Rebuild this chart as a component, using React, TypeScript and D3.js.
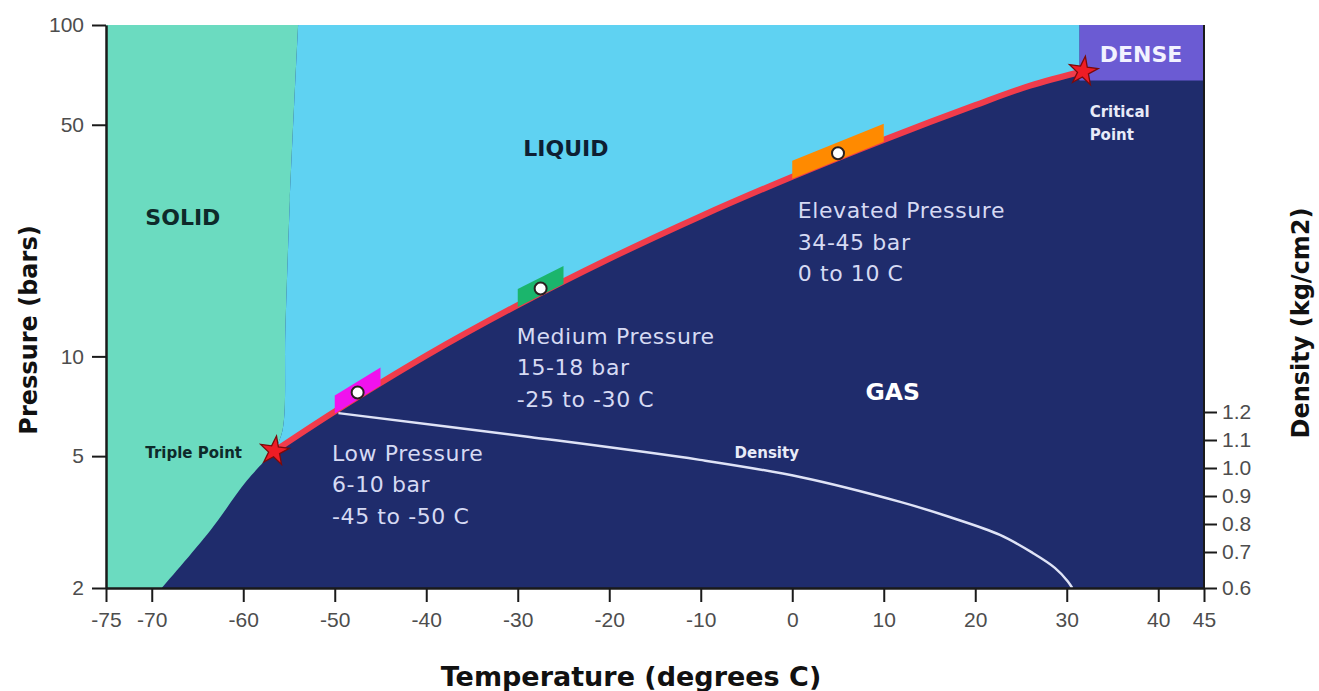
import React, { useEffect, useRef } from 'react';
import * as d3 from 'd3';

// axis ticks
const tempTicks = [-75, -70, -60, -50, -40, -30, -20, -10, 0, 10, 20, 30, 40, 45];
const pressureTicks = [2, 5, 10, 50, 100];
const densityTicks = [0.6, 0.7, 0.8, 0.9, 1.0, 1.1, 1.2];

// phase boundaries (temperature C, pressure bar)
const vaporTemp = [-56.6, -50, -40, -30, -20, -10, 0, 10, 20, 26, 31.8];
const vaporPressure = [5.18, 6.82, 10.05, 14.28, 19.7, 26.49, 34.85, 45.02, 57.29, 65.6, 72.5];
const meltTemp = [-56.6, -55.7, -55.4, -54.9, -54.0];
const meltPressure = [5.18, 6.0, 12, 29.6, 100];
const sublTemp = [-68.9, -63.6, -59.6, -56.6];
const sublPressure = [2, 2.98, 4.22, 5.18];
const denseTemp = [31.4, 45];
const densePressure = [68, 100];

// liquid density line (right axis)
const densityTemp = [-49.6, -28.7, -10.1, 0.85, 11.8, 17.2, 22.7, 26.3, 28.7, 30.1, 30.6];
const densityValues = [1.196, 1.111, 1.029, 0.968, 0.879, 0.825, 0.761, 0.697, 0.656, 0.619, 0.6];

// operating bands along the vapour curve
const bandFrom = [-50, -30, 0];
const bandTo = [-45, -25, 10];
const bandColors = ['#f012ee', '#1bb56c', '#ff8a00'];
const bandText = [
  ['Low Pressure', '6-10 bar', '-45 to -50 C'],
  ['Medium Pressure', '15-18 bar', '-25 to -30 C'],
  ['Elevated Pressure', '34-45 bar', '0 to 10 C'],
];
const bandTextAt = [
  [-50.3, 4.85],
  [-30.1, 10.9],
  [0.6, 26.1],
];

const triplePoint = [-56.6, 5.18];
const criticalPoint = [31.8, 72.5];

const App = () => {
  const ref = useRef<SVGSVGElement>(null);

  useEffect(() => {
    const svg = d3.select(ref.current);
    svg.selectAll('*').remove();

    const x = d3.scaleLinear().domain([-75, 45]).range([106, 1204]);
    const y = d3.scaleLog().domain([2, 100]).range([588, 25]);
    const yD = d3.scaleLinear().domain([0.6, 0.7, 1.2]).range([588, 552, 412]);

    const navy = '#1f2c6c';
    const lineLin = d3.line<number[]>().x((d) => x(d[0])).y((d) => y(d[1]));
    const lineCurve = d3
      .line<number[]>()
      .x((d) => x(d[0]))
      .y((d) => y(d[1]))
      .curve(d3.curveCatmullRom);
    // glue several path pieces into one outline
    const join = (...parts: (string | null)[]) =>
      parts.map((p, i) => (i === 0 ? p : (p as string).replace(/^M/, 'L'))).join('') + 'Z';

    const vapor = vaporTemp.map((t, i) => [t, vaporPressure[i]]);
    const melt = meltTemp.map((t, i) => [t, meltPressure[i]]);
    const subl = sublTemp.map((t, i) => [t, sublPressure[i]]);

    // gas background
    svg
      .append('rect')
      .attr('x', x(-75))
      .attr('y', y(100))
      .attr('width', x(45) - x(-75))
      .attr('height', y(2) - y(100))
      .attr('fill', navy);

    // solid
    const solidPath = join(
      lineLin([[-75, 2], [-75, 100]]),
      lineCurve(melt.slice().reverse()),
      lineCurve(subl.slice().reverse())
    );
    svg.append('path').attr('d', solidPath).attr('fill', '#6bdbc0');

    // liquid
    const liquidPath = join(
      lineCurve(melt),
      lineLin([[denseTemp[0], 100], [denseTemp[0], densePressure[0]], criticalPoint]),
      lineCurve(vapor.slice().reverse())
    );
    svg.append('path').attr('d', liquidPath).attr('fill', '#5fd2f2');

    // dense
    svg
      .append('rect')
      .attr('x', x(denseTemp[0]))
      .attr('y', y(densePressure[1]))
      .attr('width', x(denseTemp[1]) - x(denseTemp[0]))
      .attr('height', y(densePressure[0]) - y(densePressure[1]))
      .attr('fill', '#6b5bd3');

    // vapour pressure curve
    svg
      .append('path')
      .attr('d', lineCurve(vapor))
      .attr('fill', 'none')
      .attr('stroke', '#f03c4b')
      .attr('stroke-width', 6)
      .attr('stroke-linecap', 'round');

    // density line
    const densLine = d3
      .line<number>()
      .x((d, i) => x(densityTemp[i]))
      .y((d) => yD(d))
      .curve(d3.curveCatmullRom);
    svg
      .append('path')
      .attr('d', densLine(densityValues))
      .attr('fill', 'none')
      .attr('stroke', '#dfe3f6')
      .attr('stroke-width', 2.5);

    // bands
    const logP = d3.scaleLinear().domain(vaporTemp).range(vaporPressure.map(Math.log10));
    bandFrom.forEach((t1, i) => {
      const t2 = bandTo[i];
      const x1 = x(t1);
      const x2 = x(t2);
      const y1 = y(Math.pow(10, logP(t1)));
      const y2 = y(Math.pow(10, logP(t2)));
      const pts = [
        [x1, y1 + 2],
        [x2, y2 + 2],
        [x2, y2 - 16],
        [x1, y1 - 16],
      ];
      svg
        .append('polygon')
        .attr('points', pts.map((p) => p.join(',')).join(' '))
        .attr('fill', bandColors[i]);
      svg
        .append('circle')
        .attr('cx', (x1 + x2) / 2)
        .attr('cy', (y1 + y2) / 2 - 5)
        .attr('r', 6)
        .attr('fill', '#fff')
        .attr('stroke', '#2a2020')
        .attr('stroke-width', 2);

      const txt = svg
        .append('text')
        .attr('x', x(bandTextAt[i][0]))
        .attr('y', y(bandTextAt[i][1]))
        .attr('font-family', 'DejaVu Sans')
        .attr('font-size', 22)
        .attr('letter-spacing', 0.6)
        .attr('fill', '#d6daf3');
      bandText[i].forEach((s, j) => {
        txt
          .append('tspan')
          .attr('x', x(bandTextAt[i][0]))
          .attr('dy', j === 0 ? 0 : 31.5)
          .text(s);
      });
    });

    // stars
    const star = d3.symbol().type(d3.symbolStar).size(260);
    [triplePoint, criticalPoint].forEach((p) => {
      svg
        .append('path')
        .attr('d', star())
        .attr('transform', `translate(${x(p[0])},${y(p[1])}) rotate(8)`)
        .attr('fill', '#ee1c25')
        .attr('stroke', '#7a0a0a')
        .attr('stroke-width', 1.3);
    });

    // labels
    const label = (s: string, t: number, p: number, size: number, fill: string) =>
      svg
        .append('text')
        .attr('x', x(t))
        .attr('y', y(p))
        .attr('font-family', 'DejaVu Sans')
        .attr('font-weight', 'bold')
        .attr('font-size', size)
        .attr('fill', fill)
        .text(s);
    label('SOLID', -70.7, 24.9, 22, '#0e2a2a');
    label('LIQUID', -29.4, 40.2, 22, '#0e1f33');
    label('GAS', 8.0, 7.41, 23.5, '#ffffff');
    label('DENSE', 33.6, 77.3, 22, '#f2f2ff');
    label('Critical', 32.5, 52.7, 15, '#e8ebf8');
    label('Point', 32.5, 44.9, 15, '#e8ebf8');
    label('Triple Point', -70.7, 4.95, 15, '#0e2a2a');
    label('Density', -6.3, 4.95, 15, '#e8ebf8');

    // axes
    const styleAxis = (g: any) => {
      g.selectAll('.domain').attr('stroke', '#1a1a1a').attr('stroke-width', 2.5);
      g.selectAll('.tick line').attr('stroke', '#1a1a1a').attr('stroke-width', 2);
      g.selectAll('.tick text')
        .attr('font-family', 'Liberation Sans')
        .attr('font-size', 21)
        .attr('fill', '#4d4d4d');
    };

    svg
      .append('g')
      .attr('transform', 'translate(0,588)')
      .call(
        d3
          .axisBottom(x)
          .tickValues(tempTicks)
          .tickFormat((d: any) => String(d))
          .tickSize(14)
          .tickSizeOuter(0)
          .tickPadding(10)
      )
      .call(styleAxis);

    svg
      .append('g')
      .attr('transform', 'translate(106,0)')
      .call(
        d3
          .axisLeft(y)
          .tickValues(pressureTicks)
          .tickFormat((d: any) => String(d))
          .tickSize(14)
          .tickSizeOuter(0)
          .tickPadding(8)
      )
      .call(styleAxis);

    const right = svg
      .append('g')
      .attr('transform', 'translate(1204,0)')
      .call(
        d3
          .axisRight(yD)
          .tickValues(densityTicks)
          .tickFormat(d3.format('.1f'))
          .tickSize(13)
          .tickSizeOuter(0)
          .tickPadding(5)
      )
      .call(styleAxis);
    right.select('.domain').remove();

    svg
      .append('line')
      .attr('x1', 1204)
      .attr('x2', 1204)
      .attr('y1', y(100))
      .attr('y2', y(2))
      .attr('stroke', '#1a1a1a')
      .attr('stroke-width', 2);

    // axis titles
    const title = (s: string, tx: number, ty: number, rot: number, size: number) =>
      svg
        .append('text')
        .attr('transform', `translate(${tx},${ty}) rotate(${rot})`)
        .attr('text-anchor', 'middle')
        .attr('font-family', 'DejaVu Sans')
        .attr('font-weight', 'bold')
        .attr('font-size', size)
        .attr('fill', '#111')
        .text(s);
    title('Temperature (degrees C)', 631, 686, 0, 27);
    title('Pressure (bars)', 37, 330, -90, 24);
    title('Density (kg/cm2)', 1309, 323, -90, 24);
  }, []);

  return (
    <svg
      ref={ref}
      width={1319}
      height={691}
      style={{ position: 'absolute', left: 0, top: 0, background: '#fff' }}
    />
  );
};

export default App;
